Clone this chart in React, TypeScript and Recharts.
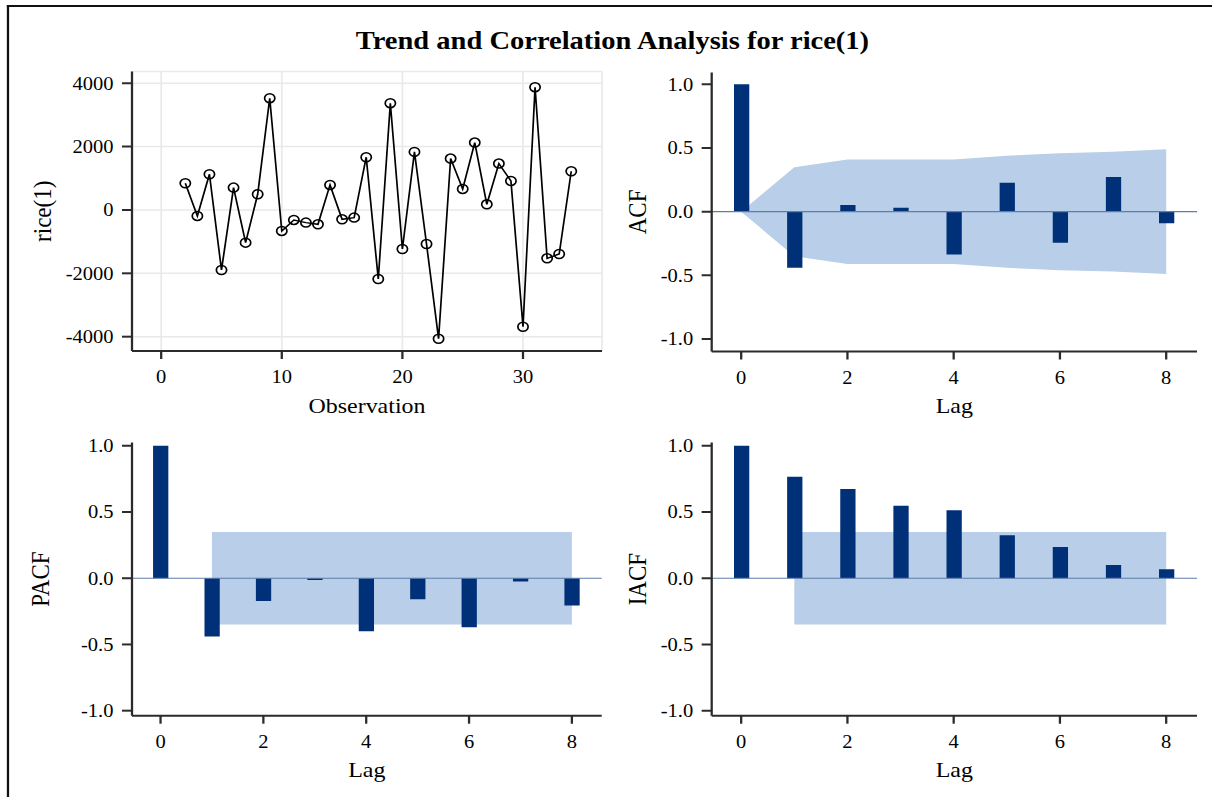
import React from 'react';
import {
  ComposedChart,
  Line,
  Bar,
  Area,
  XAxis,
  YAxis,
  CartesianGrid,
  ReferenceLine,
} from 'recharts';

// ---------------- data ----------------
const observations = [
  2, 3, 4, 5, 6, 7, 8, 9, 10, 11, 12, 13, 14, 15, 16, 17, 18, 19, 20, 21, 22,
  23, 24, 25, 26, 27, 28, 29, 30, 31, 32, 33, 34,
];
const riceDiff = [
  842, -190, 1127, -1895, 705, -1032, 495, 3527, -663, -316, -400, -453, 790,
  -295, -242, 1664, -2180, 3370, -1232, 1832, -1074, -4065, 1622, 663, 2127,
  179, 1464, 916, -3686, 3875, -1527, -1390, 1221,
];

const lags = [0, 1, 2, 3, 4, 5, 6, 7, 8];
const acfValues = [1.0, -0.441, 0.052, 0.031, -0.337, 0.227, -0.243, 0.272, -0.091];
const acfBandUpper = [0, 0.35, 0.41, 0.41, 0.41, 0.44, 0.46, 0.47, 0.49];
const pacfValues = [1.0, -0.44, -0.171, -0.013, -0.4, -0.158, -0.37, -0.025, -0.206];
const pacfBandUpper = [null, 0.35, 0.35, 0.35, 0.35, 0.35, 0.35, 0.35, 0.35];
const iacfValues = [1.0, 0.767, 0.674, 0.548, 0.513, 0.325, 0.236, 0.1, 0.068];
const iacfBandUpper = [null, 0.35, 0.35, 0.35, 0.35, 0.35, 0.35, 0.35, 0.35];

const seriesTicksX = [0, 10, 20, 30];
const seriesTicksY = [-4000, -2000, 0, 2000, 4000];
const lagTicks = [0, 2, 4, 6, 8];
const corrTicks = [-1, -0.5, 0, 0.5, 1];

const titleText = 'Trend and Correlation Analysis for rice(1)';

// ---------------- styling ----------------
const S = 1.14; // horizontal stretch of the reference
const FONT = '"Liberation Serif", "DejaVu Serif", "Times New Roman", serif';
const AXIS = '#2b2b2b';
const BAR = '#003178';
const BAND = '#b9cee8';
const ZERO = '#5d7dac';
const TICK_FS = 18;
const LABEL_FS = 21;
const YLABEL_FS = 23;

const seriesData = observations.map((obs, i) => ({ obs, value: riceDiff[i] }));
const buildCorr = (vals: number[], upper: (number | null)[]) =>
  lags.map((lag, i) => ({
    lag,
    value: vals[i],
    band: upper[i] == null ? null : [-(upper[i] as number), upper[i] as number],
  }));
const acfData = buildCorr(acfValues, acfBandUpper);
const pacfData = buildCorr(pacfValues, pacfBandUpper);
const iacfData = buildCorr(iacfValues, iacfBandUpper);

type Geo = {
  left: number;
  top: number;
  width: number;
  height: number;
  plotLeft: number;
  plotRight: number;
  plotTop: number;
  plotBottom: number;
};

const tickStyle = { fill: '#000', fontSize: TICK_FS, fontFamily: FONT };
const labelStyle = { fill: '#000', fontSize: LABEL_FS, fontFamily: FONT };
const yLabelStyle = { fill: '#000', fontSize: YLABEL_FS, fontFamily: FONT, textAnchor: 'middle' as const };

function frameAxes(xDomain: number[], yDomain: number[]) {
  return [
    <XAxis
      key="xt"
      xAxisId="top"
      orientation="top"
      type="number"
      domain={xDomain}
      allowDataOverflow
      height={0}
      tick={false}
      tickLine={false}
      axisLine={{ stroke: AXIS, strokeWidth: 2 }}
    />,
    <YAxis
      key="yr"
      yAxisId="right"
      orientation="right"
      type="number"
      domain={yDomain}
      allowDataOverflow
      width={0}
      tick={false}
      tickLine={false}
      axisLine={{ stroke: AXIS, strokeWidth: 2 }}
    />,
  ];
}

function SeriesPanel({ g }: { g: Geo }) {
  const xDomain = [-2.42, 36.55];
  const yDomain = [-4452, 4370];
  return (
    <div style={{ position: 'absolute', left: g.left, top: g.top }}>
      <ComposedChart
        width={g.width}
        height={g.height}
        data={seriesData}
        margin={{ top: g.plotTop - g.top, right: g.left + g.width - g.plotRight, bottom: 0, left: 0 }}
      >
        <CartesianGrid stroke="#e9e9e9" strokeWidth={1.5} />
        <XAxis
          dataKey="obs"
          type="number"
          domain={xDomain}
          allowDataOverflow
          ticks={seriesTicksX}
          interval={0}
          height={g.top + g.height - g.plotBottom}
          tick={tickStyle}
          tickSize={8}
          tickMargin={11.5}
          tickLine={{ stroke: AXIS, strokeWidth: 2 }}
          axisLine={{ stroke: AXIS, strokeWidth: 2 }}
          label={{ value: 'Observation', position: 'insideBottom', offset: 17.3, style: labelStyle }}
        />
        <YAxis
          type="number"
          domain={yDomain}
          allowDataOverflow
          ticks={seriesTicksY}
          interval={0}
          width={g.plotLeft - g.left}
          tick={tickStyle}
          tickSize={8.8}
          tickMargin={7.4}
          tickLine={{ stroke: AXIS, strokeWidth: 2 }}
          axisLine={{ stroke: AXIS, strokeWidth: 2 }}
          label={{
            value: 'rice(1)',
            angle: -90,
            position: 'insideLeft',
            offset: 36.5,
            style: yLabelStyle,
          }}
        />
        {frameAxes(xDomain, yDomain)}
        <Line
          dataKey="value"
          type="linear"
          stroke="#000"
          strokeWidth={1.5}
          dot={{ r: 4.5, stroke: '#000', strokeWidth: 1.5, fill: 'none' }}
          activeDot={false}
          isAnimationActive={false}
        />
      </ComposedChart>
    </div>
  );
}

function CorrPanel({
  g,
  data,
  yLabel,
  yLabelOffset,
  xLabelOffset,
  yDomain,
}: {
  g: Geo;
  data: any[];
  yLabel: string;
  yLabelOffset: number;
  xLabelOffset: number;
  yDomain: number[];
}) {
  const xDomain = [-0.555, 8.58];
  return (
    <div style={{ position: 'absolute', left: g.left, top: g.top }}>
      <ComposedChart
        width={g.width}
        height={g.height}
        data={data}
        margin={{ top: g.plotTop - g.top, right: g.left + g.width - g.plotRight, bottom: 0, left: 0 }}
      >
        <XAxis
          dataKey="lag"
          type="number"
          domain={xDomain}
          allowDataOverflow
          ticks={lagTicks}
          interval={0}
          height={g.top + g.height - g.plotBottom}
          tick={tickStyle}
          tickSize={8}
          tickMargin={11.5}
          tickLine={{ stroke: AXIS, strokeWidth: 2 }}
          axisLine={{ stroke: AXIS, strokeWidth: 2 }}
          label={{ value: 'Lag', position: 'insideBottom', offset: xLabelOffset, style: labelStyle }}
        />
        <YAxis
          type="number"
          domain={yDomain}
          allowDataOverflow
          ticks={corrTicks}
          interval={0}
          width={g.plotLeft - g.left}
          tick={tickStyle}
          tickFormatter={(v: number) => v.toFixed(1)}
          tickSize={8.8}
          tickMargin={7.4}
          tickLine={{ stroke: AXIS, strokeWidth: 2 }}
          axisLine={{ stroke: AXIS, strokeWidth: 2 }}
          label={{
            value: yLabel,
            angle: -90,
            position: 'insideLeft',
            offset: yLabelOffset,
            style: yLabelStyle,
          }}
        />
        {frameAxes(xDomain, yDomain)}
        <Area
          dataKey="band"
          type="linear"
          fill={BAND}
          fillOpacity={1}
          stroke="none"
          dot={false}
          activeDot={false}
          isAnimationActive={false}
        />
        <ReferenceLine y={0} stroke={ZERO} strokeWidth={1.2} />
        <Bar dataKey="value" fill={BAR} barSize={13.4} isAnimationActive={false} />
      </ComposedChart>
    </div>
  );
}

const W = 1212 / S;

const geoSeries: Geo = {
  left: 0, top: 60, width: 545, height: 370,
  plotLeft: 132 / S, plotRight: 602 / S, plotTop: 71.5, plotBottom: 351,
};
const geoAcf: Geo = {
  left: 540, top: 60, width: W - 540, height: 370,
  plotLeft: 711.7 / S, plotRight: 1197 / S, plotTop: 72.4, plotBottom: 351.5,
};
const geoPacf: Geo = {
  left: 0, top: 430, width: 545, height: 367,
  plotLeft: 132 / S, plotRight: 601.7 / S, plotTop: 442.5, plotBottom: 715.7,
};
const geoIacf: Geo = {
  left: 540, top: 430, width: W - 540, height: 367,
  plotLeft: 711.7 / S, plotRight: 1197 / S, plotTop: 442.5, plotBottom: 715.7,
};

export default function App() {
  return (
    <div
      style={{
        position: 'absolute',
        left: 0,
        top: 0,
        width: 1212,
        height: 797,
        overflow: 'hidden',
        background: '#fff',
      }}
    >
      <div
        style={{
          position: 'absolute',
          left: 0,
          top: 0,
          width: W,
          height: 797,
          transform: `scaleX(${S})`,
          transformOrigin: '0 0',
          fontFamily: FONT,
        }}
      >
        {/* outer frame (top and left edges visible) */}
        <div style={{ position: 'absolute', left: 5.9, top: 4.5, width: W, height: 2, background: '#111' }} />
        <div style={{ position: 'absolute', left: 5.9, top: 4.5, width: 1.8, height: 800, background: '#111' }} />
        <div
          style={{
            position: 'absolute',
            left: 612.5 / S - 500,
            top: 26.2,
            width: 1000,
            textAlign: 'center',
            fontFamily: FONT,
            fontWeight: 'bold',
            fontSize: 25,
            lineHeight: '30px',
            color: '#000',
            whiteSpace: 'nowrap',
          }}
        >
          {titleText}
        </div>
        <SeriesPanel g={geoSeries} />
        <CorrPanel g={geoAcf} data={acfData} yLabel="ACF" yLabelOffset={18.3} xLabelOffset={17.3} yDomain={[-1.098, 1.094]} />
        <CorrPanel g={geoPacf} data={pacfData} yLabel="PACF" yLabelOffset={34.5} xLabelOffset={20} yDomain={[-1.038, 1.025]} />
        <CorrPanel g={geoIacf} data={iacfData} yLabel="IACF" yLabelOffset={18.3} xLabelOffset={20} yDomain={[-1.038, 1.025]} />
      </div>
    </div>
  );
}
